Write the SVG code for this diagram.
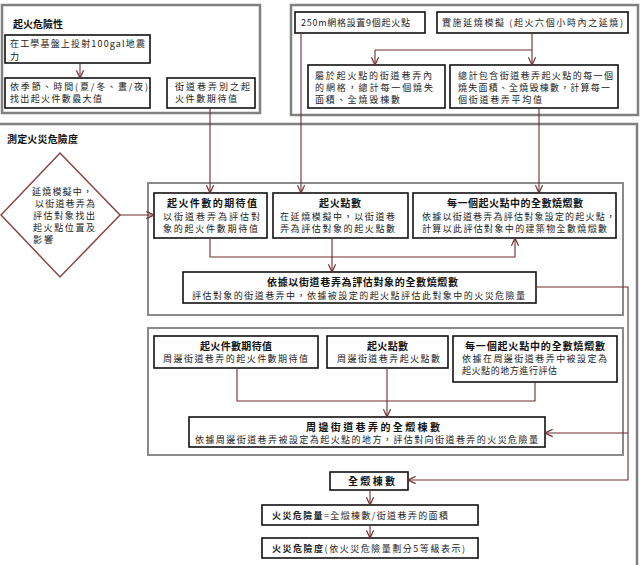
<svg xmlns="http://www.w3.org/2000/svg" width="641" height="565" viewBox="0 0 641 565">
<defs>
<marker id="arr" markerUnits="userSpaceOnUse" markerWidth="9" markerHeight="9" viewBox="0 0 10 10" refX="9.5" refY="5" orient="auto">
<path d="M1,1 L9.5,5 L1,9" fill="none" stroke="#6e2c2c" stroke-width="1.3"/>
</marker>
<style>
.outer{fill:#fff;stroke:#808080;stroke-width:2.5}
.grp{fill:#fff;stroke:#8a8a8a;stroke-width:2}
.box{fill:#fff;stroke:#111;stroke-width:1.6}
.dia{fill:#fff;stroke:#8b4343;stroke-width:1.5}
text{font-family:"Noto Sans CJK TC","Noto Sans CJK SC",sans-serif;font-size:9px;fill:#222}
.b{font-weight:bold;font-size:10px;fill:#111}
.con{fill:none;stroke:#6e2c2c;stroke-width:1.1}
.ca{fill:none;stroke:#6e2c2c;stroke-width:1.1;marker-end:url(#arr)}
</style>
</defs>
<rect class="outer" x="-5" y="124" width="642" height="450"/>
<rect class="outer" x="2" y="5" width="258" height="108"/>
<rect class="outer" x="291" y="5" width="347" height="110"/>

<text class="b" x="7" y="143" textLength="71" lengthAdjust="spacing">測定火災危險度</text>

<g id="fire-risk">
<text class="b" x="13" y="28" textLength="50" lengthAdjust="spacing">起火危險性</text>
</g>
<g id="n-seismic">
<rect class="box" x="5" y="35" width="145" height="28"/>
<text x="10" y="47" textLength="135" lengthAdjust="spacing">在工學基盤上投射100gal地震</text>
<text x="10" y="59.5">力</text>
</g>
<g id="n-season">
<rect class="box" x="5" y="78" width="145" height="30"/>
<text x="10" y="90" textLength="138" lengthAdjust="spacing">依季節、時間(夏/冬、晝/夜)</text>
<text x="10" y="102" textLength="92" lengthAdjust="spacing">找出起火件數最大值</text>
</g>
<g id="n-street-expect">
<rect class="box" x="167" y="78" width="88" height="30"/>
<text x="175" y="90" textLength="75" lengthAdjust="spacing">街道巷弄別之起</text>
<text x="175" y="102" textLength="62" lengthAdjust="spacing">火件數期待值</text>
</g>

<g id="n-grid">
<rect class="box" x="295" y="12" width="130" height="21"/>
<text x="301" y="26" textLength="109" lengthAdjust="spacing">250m網格設置9個起火點</text>
</g>
<g id="n-sim">
<rect class="box" x="437" y="12" width="191" height="21"/>
<text x="442" y="26" textLength="181" lengthAdjust="spacing">實施延燒模擬 (起火六個小時內之延燒)</text>
</g>
<g id="n-grid-total">
<rect class="box" x="308" y="65" width="137" height="43"/>
<text x="315" y="79" textLength="117" lengthAdjust="spacing">屬於起火點的街道巷弄內</text>
<text x="315" y="91" textLength="118" lengthAdjust="spacing">的網格，總計每一個燒失</text>
<text x="315" y="103" textLength="85" lengthAdjust="spacing">面積、全燒毀棟數</text>
</g>
<g id="n-street-avg">
<rect class="box" x="450" y="65" width="168" height="43"/>
<text x="458" y="79" textLength="155" lengthAdjust="spacing">總計包含街道巷弄起火點的每一個</text>
<text x="458" y="91" textLength="152" lengthAdjust="spacing">燒失面積、全燒毀棟數，計算每一</text>
<text x="458" y="103" textLength="84" lengthAdjust="spacing">個街道巷弄平均值</text>
</g>

<g id="n-diamond">
<polygon class="dia" points="60,153 120,215 60,277 1,215"/>
<text x="32" y="195" textLength="60" lengthAdjust="spacing">延燒模擬中，</text>
<text x="35" y="207" textLength="60" lengthAdjust="spacing">以街道巷弄為</text>
<text x="33" y="219" textLength="62" lengthAdjust="spacing">評估對象找出</text>
<text x="33" y="231" textLength="62" lengthAdjust="spacing">起火點位置及</text>
<text x="33" y="243" textLength="20" lengthAdjust="spacing">影響</text>
</g>

<rect class="grp" x="148" y="183" width="475" height="132"/>
<g id="n-g1-expect">
<rect class="box" x="154" y="193" width="113" height="45"/>
<text class="b" x="167" y="207" textLength="90" lengthAdjust="spacing">起火件數的期待值</text>
<text x="163" y="220" textLength="97" lengthAdjust="spacing">以街道巷弄為評估對</text>
<text x="163" y="232" textLength="95" lengthAdjust="spacing">象的起火件數期待值</text>
</g>
<g id="n-g1-points">
<rect class="box" x="273" y="193" width="135" height="45"/>
<text class="b" x="319" y="207" textLength="42" lengthAdjust="spacing">起火點數</text>
<text x="280" y="220" textLength="115" lengthAdjust="spacing">在延燒模擬中，以街道巷</text>
<text x="280" y="232" textLength="115" lengthAdjust="spacing">弄為評估對象的起火點數</text>
</g>
<g id="n-g1-burn">
<rect class="box" x="413" y="193" width="203" height="45"/>
<text class="b" x="447" y="207" textLength="136" lengthAdjust="spacing">每一個起火點中的全數燒燬數</text>
<text x="422" y="220" textLength="193" lengthAdjust="spacing">依據以街道巷弄為評估對象設定的起火點，</text>
<text x="422" y="232" textLength="185" lengthAdjust="spacing">計算以此評估對象中的建築物全數燒燬數</text>
</g>
<g id="n-g1-total">
<rect class="box" x="183" y="272" width="353" height="31"/>
<text class="b" x="267" y="286" textLength="191" lengthAdjust="spacing">依據以街道巷弄為評估對象的全數燒燬數</text>
<text x="192" y="299" textLength="333" lengthAdjust="spacing">評估對象的街道巷弄中，依據被設定的起火點評估此對象中的火災危險量</text>
</g>

<rect class="grp" x="148" y="328" width="475" height="127"/>
<g id="n-g2-expect">
<rect class="box" x="154" y="336" width="164" height="32"/>
<text class="b" x="200" y="350" textLength="72" lengthAdjust="spacing">起火件數期待值</text>
<text x="163" y="362" textLength="145" lengthAdjust="spacing">周邊街道巷弄的起火件數期待值</text>
</g>
<g id="n-g2-points">
<rect class="box" x="327" y="336" width="121" height="32"/>
<text class="b" x="367" y="350" textLength="41" lengthAdjust="spacing">起火點數</text>
<text x="337" y="362" textLength="103" lengthAdjust="spacing">周邊街道巷弄起火點數</text>
</g>
<g id="n-g2-burn">
<rect class="box" x="453" y="336" width="164" height="46"/>
<text class="b" x="465" y="350" textLength="140" lengthAdjust="spacing">每一個起火點中的全數燒燬數</text>
<text x="462" y="362" textLength="145" lengthAdjust="spacing">依據在周邊街道巷弄中被設定為</text>
<text x="462" y="374" textLength="95" lengthAdjust="spacing">起火點的地方進行評估</text>
</g>
<g id="n-g2-total">
<rect class="box" x="189" y="417" width="356" height="30"/>
<text class="b" x="306" y="431" textLength="134" lengthAdjust="spacing">周邊街道巷弄的全燬棟數</text>
<text x="195" y="443" textLength="343" lengthAdjust="spacing">依據周邊街道巷弄被設定為起火點的地方，評估對向街道巷弄的火災危險量</text>
</g>

<g id="n-destroyed">
<rect class="box" x="330" y="472" width="78" height="18"/>
<text class="b" x="348" y="485" textLength="47" lengthAdjust="spacing">全燬棟數</text>
</g>
<g id="n-amount">
<rect class="box" x="262" y="505" width="216" height="20"/>
<text x="272" y="519" textLength="176" lengthAdjust="spacing"><tspan font-weight="bold">火災危險量</tspan>=全燬棟數/街道巷弄的面積</text>
</g>
<g id="n-degree">
<rect class="box" x="262" y="538" width="216" height="20"/>
<text x="272" y="552" textLength="193" lengthAdjust="spacing"><tspan font-weight="bold">火災危險度</tspan>(依火災危險量劃分5等級表示)</text>
</g>

<g id="connectors">
<path class="ca" d="M80,63 V78"/>
<path class="ca" d="M210,108 V193"/>
<path class="ca" d="M301,33 V193"/>
<path class="con" d="M532,33 V50 M375,50 H532"/>
<path class="ca" d="M375,50 V65"/>
<path class="ca" d="M532,50 V65"/>
<path class="ca" d="M539,108 V193"/>
<path class="ca" d="M120,215 H154"/>
<path class="ca" d="M210,238 V257 H515 V238"/>
<path class="ca" d="M332,238 V272"/>
<path class="ca" d="M536,287 H628 V480 H408"/>
<path class="ca" d="M628,433 H545"/>
<path class="con" d="M237,368 V401 H535 V382"/>
<path class="ca" d="M387,368 V417"/>
<path class="ca" d="M370,490 V505"/>
<path class="ca" d="M370,525 V538"/>
</g>
</svg>
